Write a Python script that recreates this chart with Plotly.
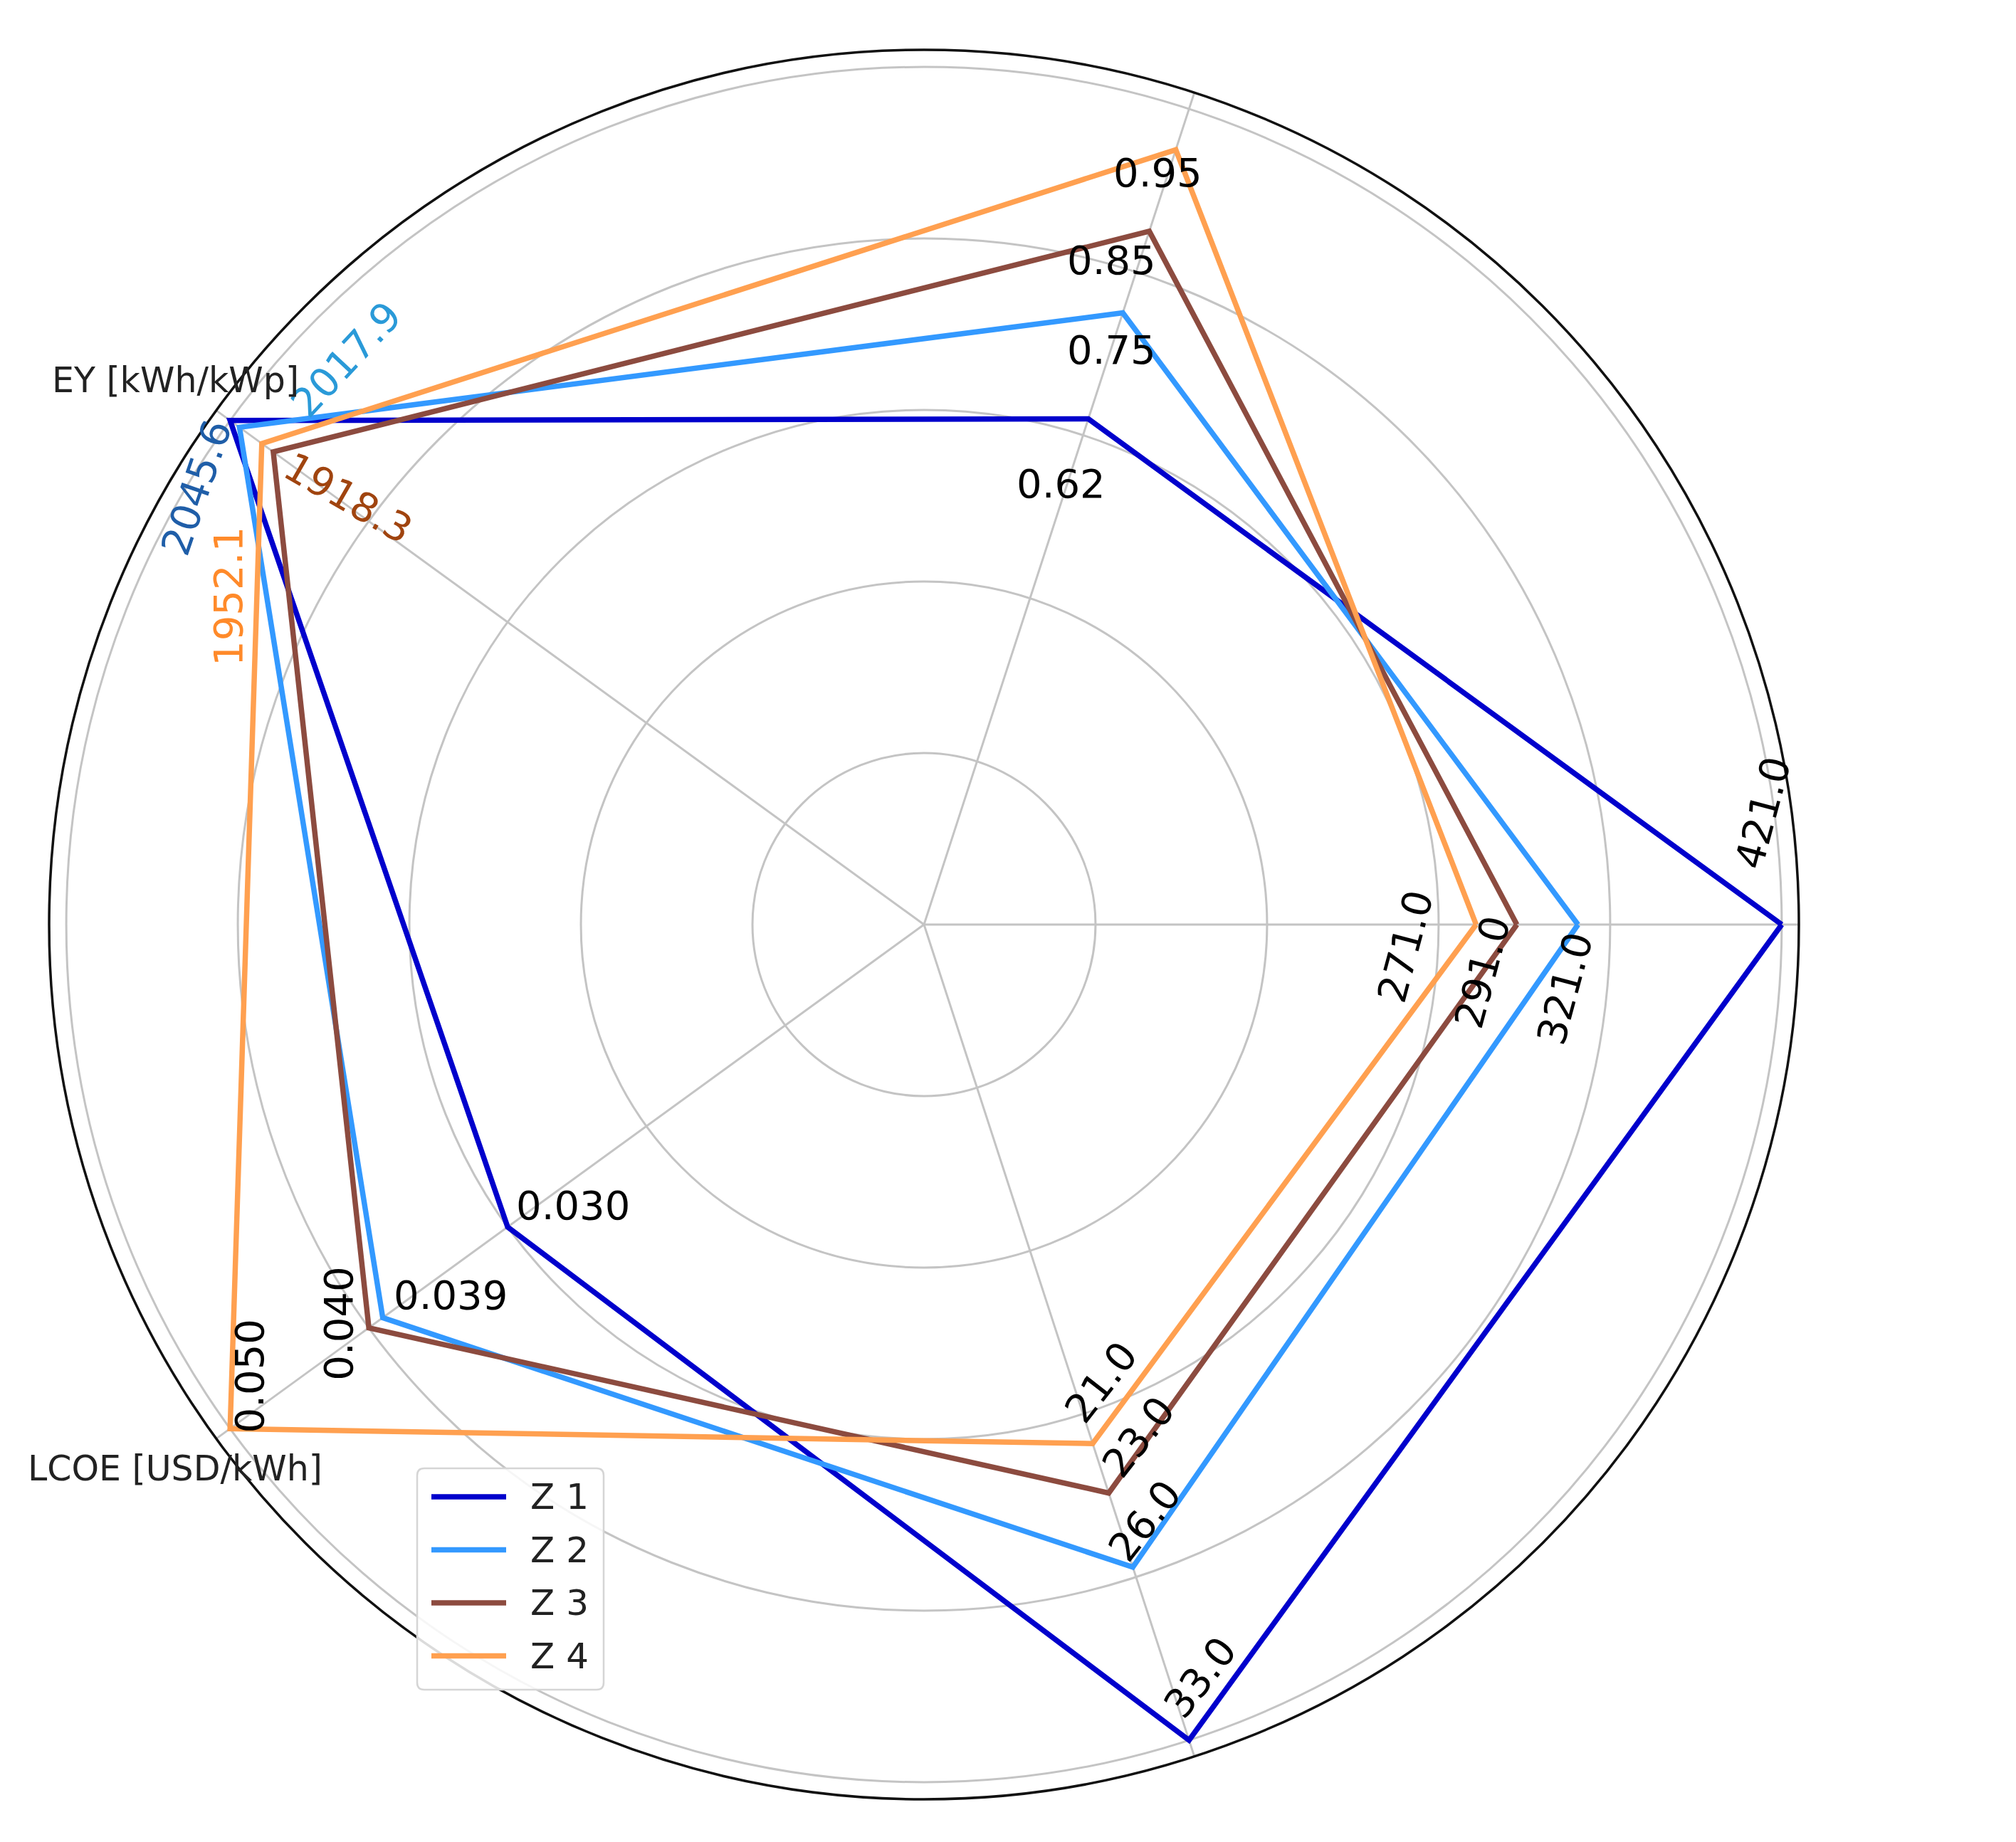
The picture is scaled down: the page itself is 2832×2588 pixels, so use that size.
import numpy as np
import plotly.graph_objects as go

# Radar data per zone
categories = ["OPEX [USD/kWp]", "DR [%/yr]", "EY [kWh/kWp]", "LCOE [USD/kWh]", "lifetime [yr]"]
zones = ["Z 1", "Z 2", "Z 3", "Z 4"]
opex = [421.0, 321.0, 291.0, 271.0]
dr = [0.62, 0.75, 0.85, 0.95]
ey = [2045.6, 2017.9, 1918.3, 1952.1]
lcoe = [0.030, 0.039, 0.040, 0.050]
lifetime = [33.0, 26.0, 23.0, 21.0]
label_fmt = ["{:.1f}", "{:.2f}", "{:.1f}", "{:.3f}", "{:.1f}"]

# styling
line_colors = ["#0000cc", "#3399ff", "#8c4b3f", "#ffa050"]
ey_label_colors = ["#1f5ea8", "#2a9ad8", "#a0440f", "#ff8a2a"]
font = "DejaVu Sans"
W, H = 2832, 2588

# label offsets in px (xshift, yshift, textangle) per axis, per zone
label_style = [
    [(-27, 157, -75), (-19, -90, -75), (-49, -67, -75), (-100, -31, -75)],
    [(-38, -91, 0), (-16, -52, 0), (-53, -41, 0), (-25, -32, 0)],
    [(-47, -94, -71), (150, 96, -47), (105, -65, 30), (-48, -215, -90)],
    [(92, 30, 0), (95, 32, 0), (-43, 6, -90), (27, 74, -90)],
    [(16, 88, -52), (17, 65, -52), (42, 79, -52), (12, 87, -52)],
]

values = np.array([opex, dr, ey, lcoe, lifetime])  # axis x zone
axis_ref = np.array([max(opex), 1.0, max(ey), max(lcoe), max(lifetime)])
norm = values / axis_ref[:, None]
angles = np.arange(len(categories)) * 360.0 / len(categories)

R_MAX = 1.02
dom_x = [61 / W, 2519 / W]
dom_y = [1 - 2520 / H, 1 - 62 / H]

fig = go.Figure()
for j, z in enumerate(zones):
    r = list(norm[:, j]) + [norm[0, j]]
    th = list(angles) + [angles[0]]
    fig.add_trace(go.Scatterpolar(r=r, theta=th, mode="lines", name=z,
                                  showlegend=False,
                                  line=dict(color=line_colors[j], width=7.5)))

# invisible cartesian overlay for rotated text
fig.add_trace(go.Scatter(x=[], y=[], showlegend=False, hoverinfo="skip"))

annotations = []
rad = np.deg2rad(angles)
for i in range(len(categories)):
    for j in range(len(zones)):
        xs, ys, ang = label_style[i][j]
        color = ey_label_colors[j] if i == 2 else "black"
        annotations.append(dict(
            x=norm[i, j] * np.cos(rad[i]), y=norm[i, j] * np.sin(rad[i]),
            xref="x", yref="y", text=label_fmt[i].format(values[i, j]),
            showarrow=False, xshift=xs, yshift=ys, textangle=ang,
            xanchor="center", yanchor="middle",
            font=dict(family=font, size=56, color=color)))
    annotations.append(dict(
        x=1.079 * np.cos(rad[i]), y=1.079 * np.sin(rad[i]),
        xref="x", yref="y", text=categories[i], showarrow=False,
        xanchor="center", yanchor="middle",
        font=dict(family=font, size=49, color="#222222")))

# legend box drawn by hand (matplotlib-like)
shapes = []
bx0, bx1, by0, by1, rr = 578, 840, 2055, 2366, 10
path = (f"M{bx0 + rr},{by0} L{bx1 - rr},{by0} Q{bx1},{by0} {bx1},{by0 + rr} "
        f"L{bx1},{by1 - rr} Q{bx1},{by1} {bx1 - rr},{by1} L{bx0 + rr},{by1} "
        f"Q{bx0},{by1} {bx0},{by1 - rr} L{bx0},{by0 + rr} Q{bx0},{by0} {bx0 + rr},{by0} Z")
# convert pixel path to paper coords
def px_path(p):
    out = []
    for tok in p.replace("M", " M ").replace("L", " L ").replace("Q", " Q ").replace("Z", " Z ").split():
        if "," in tok:
            a, b = tok.split(",")
            out.append(f"{float(a) / W:.5f},{1 - float(b) / H:.5f}")
        else:
            out.append(tok)
    return " ".join(out)
shapes.append(dict(type="path", xref="paper", yref="paper", path=px_path(path),
                   line=dict(color="#d5d5d5", width=2.5),
                   fillcolor="rgba(255,255,255,0.85)", layer="above"))
for j, z in enumerate(zones):
    yy = 1 - (2095 + 74.5 * j) / H
    shapes.append(dict(type="line", xref="paper", yref="paper",
                       x0=598 / W, x1=703 / W, y0=yy, y1=yy, layer="above",
                       line=dict(color=line_colors[j], width=7.5)))
    annotations.append(dict(x=735 / W, y=yy, xref="paper", yref="paper",
                            text=z, showarrow=False, xanchor="left", yanchor="middle",
                            font=dict(family=font, size=50, color="#222222")))

fig.update_layout(
    width=W, height=H,
    margin=dict(l=0, r=0, t=0, b=0),
    paper_bgcolor="white", plot_bgcolor="white",
    font=dict(family=font, color="black"),
    showlegend=False,
    polar=dict(
        domain=dict(x=dom_x, y=dom_y),
        bgcolor="white",
        angularaxis=dict(direction="counterclockwise", rotation=0,
                         tickmode="array", tickvals=list(angles),
                         showticklabels=False, ticks="",
                         gridcolor="#c4c4c4", gridwidth=2.5,
                         showline=True, linecolor="#111111", linewidth=3.5),
        radialaxis=dict(range=[0, R_MAX], tickvals=[0.2, 0.4, 0.6, 0.8, 1.0],
                        showticklabels=False, ticks="", showline=False,
                        gridcolor="#c4c4c4", gridwidth=2.5),
    ),
    xaxis=dict(domain=dom_x, range=[-R_MAX, R_MAX], visible=False, fixedrange=True),
    yaxis=dict(domain=dom_y, range=[-R_MAX, R_MAX], visible=False, fixedrange=True),
    annotations=annotations,
    shapes=shapes,
)

fig.write_html("out.html")
